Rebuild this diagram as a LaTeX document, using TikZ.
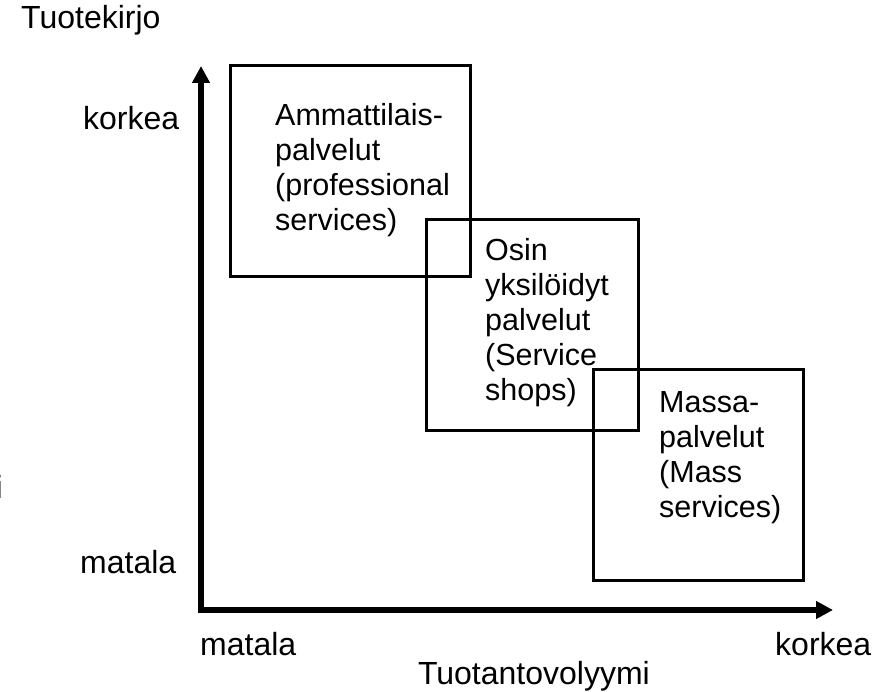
\documentclass[tikz,border=0pt]{standalone}
\usepackage{fontspec}
\setmainfont{Liberation Sans}
\usetikzlibrary{arrows.meta}
\tikzset{
  boxframe/.style={draw=black, line width=3pt, inner sep=0pt, fill=none},
  lbl/.style={inner sep=0pt, font=\fontsize{32}{35}\selectfont, text=black},
  boxtext/.style={inner sep=0pt, font=\fontsize{30.5}{35}\selectfont, text=black, align=left, anchor=north west},
  axis/.style={line width=6pt, line cap=butt, -{Triangle[length=17pt,width=17pt]}}
}
\begin{document}
\begin{tikzpicture}[x=1pt,y=-1pt]
\useasboundingbox (0,0) rectangle (891,692);
% boxes
\node[boxframe, minimum width=240pt, minimum height=211pt] (b1) at (350,171.5) {};
\node[boxframe, minimum width=212pt, minimum height=210pt] (b2) at (532,325) {};
\node[boxframe, minimum width=210pt, minimum height=211pt] (b3) at (698,474.5) {};
% box texts
\node[boxtext] (t1) at (275,103) {Ammattilais-\\palvelut\\(professional\\services)};
\node[boxtext] (t2) at (485,238) {Osin\\yksilöidyt\\palvelut\\(Service\\shops)};
\node[boxtext] (t3) at (659,391) {Massa-\\palvelut\\(Mass\\services)};
% axes
\coordinate (O) at (201,610);
\coordinate (Ob) at (198,610);
\coordinate (Oy) at (201,613);
\coordinate (ytop) at (201,66);
\coordinate (xend) at (833,610);
\draw[axis] (Oy) -- (ytop);
\draw[axis] (Ob) -- (xend);
% axis labels
\node[lbl, anchor=base west] (ytitle) at (21,29) {Tuotekirjo};
\node[lbl, anchor=base west] (yhigh) at (83,130) {korkea};
\node[lbl, anchor=base west] (ylow) at (80,573) {matala};
\node[lbl, anchor=base west] (xlow) at (200,655) {matala};
\node[lbl, anchor=base west] (xhigh) at (775,655) {korkea};
\node[lbl, anchor=base east] (xtitle) at (650,684) {Tuotantovolyymi};
\node[lbl, anchor=base west, text=gray] (frag) at (-4,498) {i};
\end{tikzpicture}
\end{document}
